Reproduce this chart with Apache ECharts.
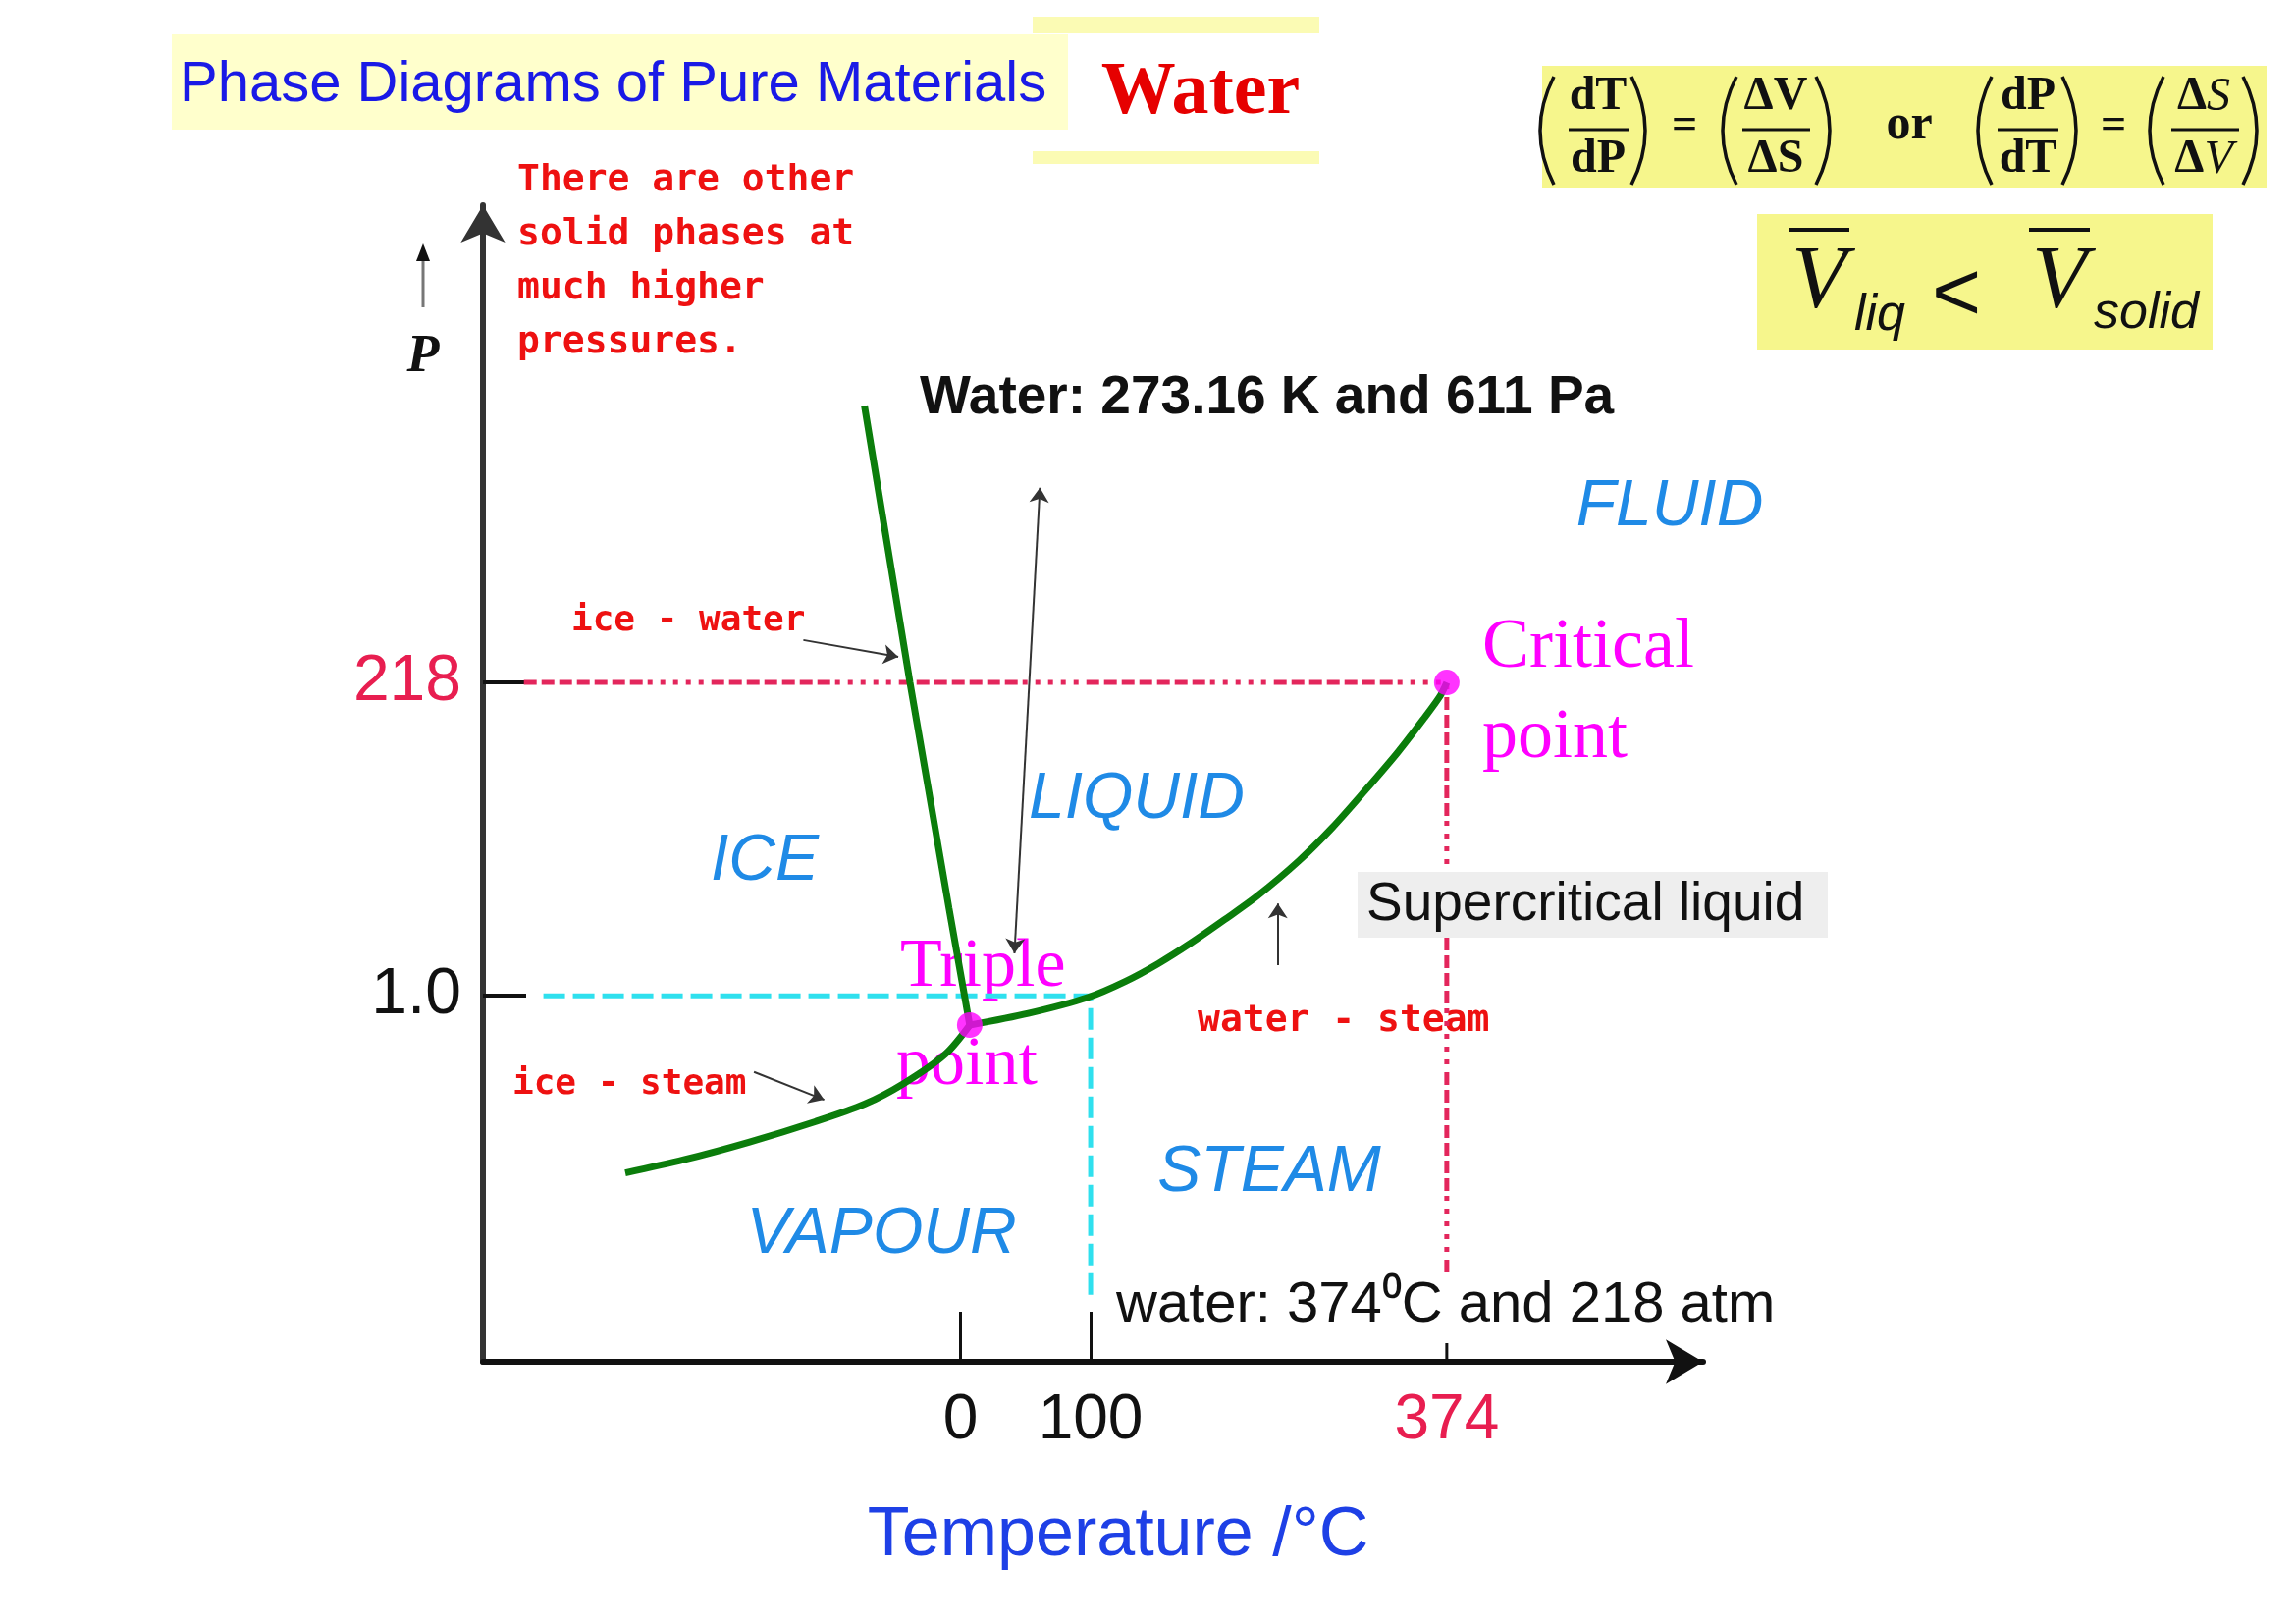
<!DOCTYPE html>
<html><head><meta charset="utf-8">
<script src="https://cdn.jsdelivr.net/npm/echarts@6/dist/echarts.min.js"></script>
<style>html,body{margin:0;padding:0;background:#fff}#c{width:2339px;height:1653px}</style>
</head><body><div id="c"></div>
<script>
// ---------- data (schematic phase diagram: temperature in °C, pressure as schematic height) ----------
const tempTicks = [0, 100, 374];
const tempTickLabels = ['0', '100', '374'];
const tempMajorTicks = [0, 100];
const pressureTickPos = [250, 464];          // schematic heights of 1.0 atm and 218 atm
const pressureTickLabels = ['1.0', '218'];

const fusionT = [-74, -39, -9, 7];            // ice - water
const fusionP = [653, 464, 310, 230];
const sublimationT = [-258, -213, -163, -112, -74, -44, -12, 7];   // ice - steam
const sublimationP = [129, 138, 150, 164, 176, 190, 210, 230];
const vaporT = [7, 52, 98, 127, 152, 177, 203, 228, 260, 286, 311, 336, 356, 369, 374];   // water - steam
const vaporP = [230, 238, 249, 260, 272, 286, 302, 318, 342, 365, 390, 416, 439, 455, 464];
const triplePoint = [7, 230];
const criticalPoint = [374, 464];

const criticalGuideT = [-336, 374, 374];
const criticalGuideP = [464, 464, 60];
const normalGuideT = [-321, 100, 100];
const normalGuideP = [250, 250, 41];
const criticalTickT = [374, 374];
const criticalTickP = [0, 12.7];
// -----------------------------------------------------------------------------------------------

const pairs = (a, b) => a.map((v, i) => [v, b[i]]);
const F = {
  sans: "'Liberation Sans', Arial, sans-serif",
  serif: "'Liberation Serif', 'Times New Roman', serif",
  mono: "'DejaVu Sans Mono', monospace"
};
const RED = '#e3265c', LBLRED = '#e81e50', CYAN = '#2fe0ee', GREEN = '#0b7d0b', MAG = '#ff00ff', BLUE = '#1f8ae6', NOTE = '#ee1111';

function txt(text, x, y, o) {
  return { type: 'text', x: x, y: y, z: (o.z != null ? o.z : 1), silent: true,
    style: Object.assign({ text: text, fill: o.fill || '#111', fontSize: o.fontSize, fontFamily: o.fontFamily || F.sans,
      fontWeight: o.fontWeight || 'normal', fontStyle: o.fontStyle || 'normal',
      align: o.align || 'left', verticalAlign: o.verticalAlign || 'middle' }, o.style || {}) };
}
function line(x1, y1, x2, y2, color, w, z) {
  return { type: 'line', z: z || 1, silent: true, shape: { x1: x1, y1: y1, x2: x2, y2: y2 }, style: { stroke: color, lineWidth: w } };
}
function rect(x, y, w, h, fill, z) {
  return { type: 'rect', z: z || 0, silent: true, shape: { x: x, y: y, width: w, height: h }, style: { fill: fill } };
}
function paren(xl, xr, open) {
  const xe = open ? xr : xl, xm = open ? xl : xr;
  const cp = 2 * xm - xe;
  return { type: 'bezierCurve', z: 2, silent: true,
    shape: { x1: xe, y1: 78, x2: xe, y2: 188, cpx1: cp, cpy1: 133 },
    style: { stroke: '#111', lineWidth: 3.5, fill: null } };
}

const graphics = [
  rect(1052, 17, 292, 150, '#fbfbb4', 0),
  rect(1052, 34, 292, 120, '#ffffff', 0),
  rect(175, 35, 913, 97, '#ffffcc', 0),
  txt('Phase Diagrams of Pure Materials', 183, 87, { fontSize: 58, fill: '#1a1ae6' }),
  txt('Water', 1223, 95, { fontSize: 76, fontWeight: 'bold', fontFamily: F.serif, fill: '#e60000', align: 'center' }),
  rect(1571, 67, 738, 124, '#f6f68c', 0),
  rect(1790, 218, 464, 138, '#f6f68c', 0)
];
[[1569, 1583], [1755, 1769], [2015, 2029], [2190, 2204]].forEach(p => graphics.push(paren(p[0], p[1], true)));
[[1662, 1676], [1850, 1864], [2101, 2115], [2285, 2299]].forEach(p => graphics.push(paren(p[0], p[1], false)));
const fr = [
  { c: 1628, n: 'dT', d: 'dP', b: [1598, 1660] },
  { c: 1809, n: 'ΔV', d: 'ΔS', b: [1775, 1844] },
  { c: 2066, n: 'dP', d: 'dT', b: [2035, 2097] },
  { c: 2245, n: '{u|Δ}{i|S}', d: '{u|Δ}{i|V}', b: [2212, 2281] }
];
fr.forEach(f => {
  const rich = { u: { fontSize: 48, fontWeight: 'bold', fontFamily: F.serif, fill: '#111' }, i: { fontSize: 48, fontStyle: 'italic', fontFamily: F.serif, fill: '#111' } };
  graphics.push(txt(f.n, f.c, 99, { fontSize: 48, fontWeight: 'bold', fontFamily: F.serif, align: 'center', z: 2, style: { rich: rich } }));
  graphics.push(txt(f.d, f.c, 163, { fontSize: 48, fontWeight: 'bold', fontFamily: F.serif, align: 'center', z: 2, style: { rich: rich } }));
  graphics.push(line(f.b[0], 132, f.b[1], 132, '#111', 3, 2));
});
graphics.push(txt('=', 1716, 129, { fontSize: 46, fontWeight: 'bold', fontFamily: F.serif, align: 'center', z: 2 }));
graphics.push(txt('=', 2153, 129, { fontSize: 46, fontWeight: 'bold', fontFamily: F.serif, align: 'center', z: 2 }));
graphics.push(txt('or', 1945, 128, { fontSize: 50, fontWeight: 'bold', fontFamily: F.serif, align: 'center', z: 2 }));
graphics.push(txt('V', 1853, 289, { fontSize: 92, fontStyle: 'italic', fontFamily: F.serif, align: 'center', z: 2 }));
graphics.push(line(1822, 234, 1884, 234, '#111', 4, 2));
graphics.push(txt('liq', 1889, 322, { fontSize: 52, fontStyle: 'italic', z: 2 }));
graphics.push(txt('<', 1993, 302, { fontSize: 86, align: 'center', z: 2 }));
graphics.push(txt('V', 2098, 289, { fontSize: 92, fontStyle: 'italic', fontFamily: F.serif, align: 'center', z: 2 }));
graphics.push(line(2067, 234, 2129, 234, '#111', 4, 2));
graphics.push(txt('solid', 2133, 320, { fontSize: 52, fontStyle: 'italic', z: 2 }));
['There are other', 'solid phases at', 'much higher', 'pressures.'].forEach((s, i) =>
  graphics.push(txt(s, 527, 184 + i * 55, { fontSize: 38, fontWeight: 'bold', fontFamily: F.mono, fill: NOTE })));
graphics.push(line(431, 313, 431, 262, '#777', 3, 1));
graphics.push({ type: 'polygon', z: 1, silent: true, shape: { points: [[431, 248], [424, 266], [438, 266]] }, style: { fill: '#111' } });
graphics.push(txt('P', 431, 364, { fontSize: 54, fontWeight: 'bold', fontStyle: 'italic', fontFamily: F.serif, align: 'center' }));
graphics.push(txt('Water: 273.16 K and 611 Pa', 937, 406, { fontSize: 55, fontWeight: 'bold' }));
[['FLUID', 1701, 517], ['LIQUID', 1158, 815], ['ICE', 779, 878], ['STEAM', 1293, 1195], ['VAPOUR', 898, 1258]].forEach(a =>
  graphics.push(txt(a[0], a[1], a[2], { fontSize: 66, fontStyle: 'italic', fill: BLUE, align: 'center' })));
graphics.push(txt('Critical', 1510, 660, { fontSize: 72, fontFamily: F.serif, fill: MAG }));
graphics.push(txt('point', 1510, 752, { fontSize: 72, fontFamily: F.serif, fill: MAG }));
graphics.push(txt('Triple', 917, 986, { fontSize: 70, fontFamily: F.serif, fill: MAG, z: 1 }));
graphics.push(txt('point', 913, 1086, { fontSize: 70, fontFamily: F.serif, fill: MAG, z: 1 }));
graphics.push(rect(1383, 888, 479, 67, '#eeeeee', 10));
graphics.push(txt('Supercritical liquid', 1392, 922, { fontSize: 55, z: 11 }));
graphics.push(txt('water - steam', 1220, 1040, { fontSize: 38, fontWeight: 'bold', fontFamily: F.mono, fill: NOTE }));
graphics.push(txt('ice - water', 582, 633, { fontSize: 36, fontWeight: 'bold', fontFamily: F.mono, fill: NOTE }));
graphics.push(txt('ice - steam', 522, 1105, { fontSize: 36, fontWeight: 'bold', fontFamily: F.mono, fill: NOTE }));
graphics.push(txt('water: 374⁰C and 218 atm', 1137, 1330, { fontSize: 58 }));
graphics.push(txt('Temperature /°C', 1139, 1565, { fontSize: 70, fill: '#1e40e6', align: 'center' }));

const redDash = [13, 5, 13, 5, 13, 5, 13, 5, 13, 5, 13, 5, 13, 5, 5, 8, 5, 8, 5, 8, 5, 8, 5, 8];

const option = {
  animation: false,
  backgroundColor: '#ffffff',
  grid: { left: 492, right: 604, top: 209, bottom: 266, containLabel: false },
  xAxis: {
    type: 'value', min: -367.5, max: 571.2,
    axisLine: { show: true, onZero: false, lineStyle: { color: '#111', width: 6 }, symbol: ['none', 'arrow'], symbolSize: [34, 38] },
    axisTick: { show: true, inside: true, length: 51, customValues: tempMajorTicks, lineStyle: { color: '#111', width: 3 } },
    axisLabel: { show: true, customValues: tempTicks, margin: 28, fontSize: 64, fontFamily: F.sans,
      formatter: v => tempTickLabels[tempTicks.indexOf(Number(v))],
      color: v => Number(v) === 374 ? LBLRED : '#111' },
    splitLine: { show: false }
  },
  yAxis: {
    type: 'value', min: 0, max: 790,
    axisLine: { show: true, onZero: false, lineStyle: { color: '#333', width: 6 }, symbol: ['none', 'arrow'], symbolSize: [34, 38] },
    axisTick: { show: true, inside: true, length: 44, customValues: pressureTickPos, lineStyle: { color: '#111', width: 4 } },
    axisLabel: { show: true, customValues: pressureTickPos, margin: 22, fontSize: 66, fontFamily: F.sans,
      formatter: v => pressureTickLabels[pressureTickPos.indexOf(Number(v))],
      color: v => Number(v) === 464 ? LBLRED : '#111' },
    splitLine: { show: false }
  },
  graphic: { elements: graphics },
  series: [
    { type: 'line', name: 'critical guide', data: pairs(criticalGuideT, criticalGuideP), symbol: 'none', silent: true, z: 2,
      lineStyle: { color: RED, width: 5, type: redDash },
      markLine: {
        silent: true, symbol: ['none', 'arrow'], symbolSize: 15, label: { show: false },
        lineStyle: { color: '#333', width: 2, type: 'solid' },
        data: [
          [{ coord: [-121, 493] }, { coord: [-48, 481.5] }],
          [{ coord: [-159, 198] }, { coord: [-105, 179] }],
          [{ coord: [41.4, 279], symbol: 'arrow' }, { coord: [61, 597] }],
          [{ coord: [244, 271] }, { coord: [244, 313] }]
        ]
      } },
    { type: 'line', name: 'normal guide', data: pairs(normalGuideT, normalGuideP), symbol: 'none', silent: true, z: 2,
      lineStyle: { color: CYAN, width: 5, type: [22, 8] } },
    { type: 'line', name: '374 tick', data: pairs(criticalTickT, criticalTickP), symbol: 'none', silent: true, z: 2,
      lineStyle: { color: '#111', width: 3 } },
    { type: 'line', name: 'ice - water', data: pairs(fusionT, fusionP), symbol: 'none', z: 3,
      lineStyle: { color: GREEN, width: 7 } },
    { type: 'line', name: 'ice - steam', data: pairs(sublimationT, sublimationP), symbol: 'none', smooth: 0.3, z: 3,
      lineStyle: { color: GREEN, width: 7 } },
    { type: 'line', name: 'water - steam', data: pairs(vaporT, vaporP), symbol: 'none', smooth: 0.3, z: 3,
      lineStyle: { color: GREEN, width: 7 } },
    { type: 'scatter', name: 'points', data: [triplePoint, criticalPoint], symbolSize: 26, z: 5,
      itemStyle: { color: MAG } }
  ]
};
const chart = echarts.init(document.getElementById('c'), null, { renderer: 'canvas', width: 2339, height: 1653 });
chart.setOption(option);
</script></body></html>
